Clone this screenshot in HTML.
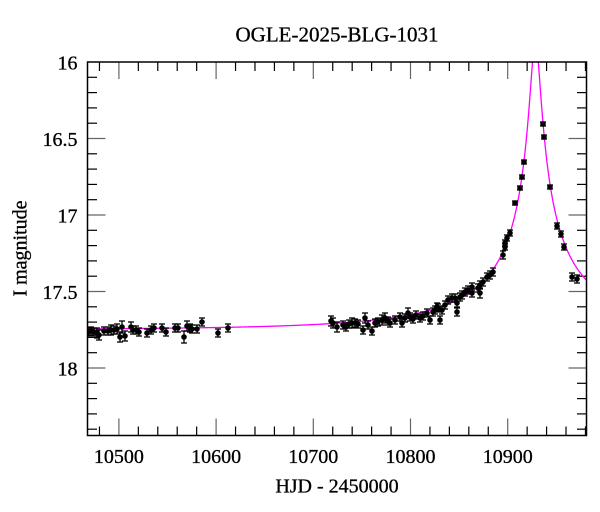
<!DOCTYPE html>
<html>
<head>
<meta charset="utf-8">
<style>
html,body{margin:0;padding:0;background:#fff;}
svg{display:block;}
text{font-family:"Liberation Serif",serif;fill:#000;stroke:#000;stroke-width:0.3;}
</style>
</head>
<body>
<svg id="s" width="600" height="512" viewBox="0 0 600 512" xmlns="http://www.w3.org/2000/svg">
<defs>
<clipPath id="c"><rect x="87.5" y="62" width="499" height="373.5"/></clipPath>
</defs>
<rect width="600" height="512" fill="#fff"/>
<text x="337" y="41.7" font-size="21" text-anchor="middle">OGLE-2025-BLG-1031</text>
<g id="ticks" stroke-width="1.2"></g>
<g id="labels" font-size="20"></g>
<text x="337" y="492.7" font-size="20" text-anchor="middle">HJD - 2450000</text>
<text transform="translate(26.5,248.5) rotate(-90)" font-size="20" text-anchor="middle">I magnitude</text>
<g clip-path="url(#c)">
<path id="curve" fill="none" stroke="#ff00ff" stroke-width="1.3" d=""/>
<g id="pts" stroke="#000" stroke-width="1.3" fill="#000"></g>
</g>
<rect x="87.5" y="62" width="499" height="373.5" fill="none" stroke="#000" stroke-width="1.5"/>
</svg>
<script>
(function(){
var NS="http://www.w3.org/2000/svg";
function X(t){return 118.9+(t-10500)*0.972;}
function Y(m){return 62+(m-16)*153;}
var L=87.5,R=586.5,T=62,B=435.5;
var tk=document.getElementById('ticks');
function line(x1,y1,x2,y2,col){var l=document.createElementNS(NS,'line');l.setAttribute('x1',x1);l.setAttribute('y1',y1);l.setAttribute('x2',x2);l.setAttribute('y2',y2);l.setAttribute('stroke',col);tk.appendChild(l);}
function txt(x,y,s,anchor){var e=document.createElementNS(NS,'text');e.setAttribute('x',x);e.setAttribute('y',y);e.setAttribute('text-anchor',anchor);e.textContent=s;document.getElementById('labels').appendChild(e);}
for(var t=10480;t<=10980;t+=20){
  var x=X(t); var major=(t%100===0);
  var len=major?17:9; var col=major?'#666':'#000';
  line(x,B,x,B-len,col); line(x,T,x,T+len,col);
  if(major) txt(x,463,String(t),'middle');
}
for(var i=1;i<=24;i++){
  var m=16+i*0.1; if(m>18.44) break;
  var y=Y(m); var major=(i%5===0);
  var len=major?18:9.5; var col=major?'#666':'#000';
  line(L,y,L+len,y,col); line(R,y,R-len,y,col);
}
var yl=[[16,'16'],[16.5,'16.5'],[17,'17'],[17.5,'17.5'],[18,'18']];
yl.forEach(function(p){txt(77.5,Y(p[0])+7.5,p[1],'end');});
var t0=10928.5,tE=200,u0=0.025,fs=0.12,I0=17.749;
function mag(t){var tau=(t-t0)/tE;var u=Math.sqrt(u0*u0+tau*tau);var A=(u*u+2)/(u*Math.sqrt(u*u+4));return I0-2.5*Math.log10(1+fs*(A-1));}
var d='';var first=true;
var ts=[];
for(var t=10466;t<10880;t+=2)ts.push(t);
for(var t=10880;t<10984;t+=0.25)ts.push(t);
ts.forEach(function(t){var y=Y(mag(t));if(y<40)y=40;d+=(first?'M':'L')+X(t).toFixed(2)+','+y.toFixed(2);first=false;});
document.getElementById('curve').setAttribute('d',d);
var P=[
[88,332,4],[91,331,4],[94,332,4],[97,333,5],[99,335,5],[104,331,4],[108,331,4],[111,330,5],[114,330,4],[117,329,5],
[120,337,5],[122,327,6],[125,336,5],[131,327,5],[133,330,4],[136,330,4],[139,332,4],[147,333,4],[151,330,4],[154,328,4],
[162,328,4],[166,332,4],[175,328,4],[178,328,4],[184,337,6],[187,326,5],[190,328,4],[192,329,4],[197,329,4],[202,322,4],
[218,333,4],[228,328,4],
[331,321,5],[333,323,5],[337,327,5],[343,325,4],[346,327,4],[349,324,4],[352,323,5],[355,323,4],[358,324,4],[363,330,4],
[365,318,5],[368,325,4],[372,331,4],[375,323,4],[378,322,4],[382,320,5],[385,318,5],[388,321,4],[390,323,4],[395,320,4],
[400,317,4],[402,323,4],[405,318,4],[408,313,5],[410,317,4],[413,319,4],[416,315,4],[420,318,4],[423,316,4],[427,313,4],
[430,320,4],[433,312,4],[435,310,4],[437,307,4],[438,308,4],[440,320,4],[442,310,4],[445,305,4],[448,300,4],[452,298,4],
[455,298,4],[457,312,4],[457,303,4],[460,297,4],[462,295,4],[465,292,4],[468,290,4],[472,287,4],[472,293,4],[478,288,4],
[480,285,4],[480,293,5],[483,282,4],[487,277,4],[490,275,4],[493,272,4],[503,255,4],[505,247,3],[505,243,3],[507,238,3],
[510,233,3],
[515,203,2],[520,188,2],[522,177,2],[524,162,2],[543,124,2],[544,137,2],[550,187,2],[557,226,3],[561,234,3],[564,247,3],
[572,277,4],[577,279,4]
];
var g=document.getElementById('pts');var h='';
P.forEach(function(p){var x=p[0],y=p[1],e=p[2];
 h+='<line x1="'+x+'" y1="'+(y-e)+'" x2="'+x+'" y2="'+(y+e)+'"/>';
 h+='<line x1="'+(x-3)+'" y1="'+(y-e)+'" x2="'+(x+3)+'" y2="'+(y-e)+'"/>';
 h+='<line x1="'+(x-3)+'" y1="'+(y+e)+'" x2="'+(x+3)+'" y2="'+(y+e)+'"/>';
 h+='<circle cx="'+x+'" cy="'+y+'" r="2.8" stroke="none"/>';
});
g.innerHTML=h;
})();
</script>
</body>
</html>
